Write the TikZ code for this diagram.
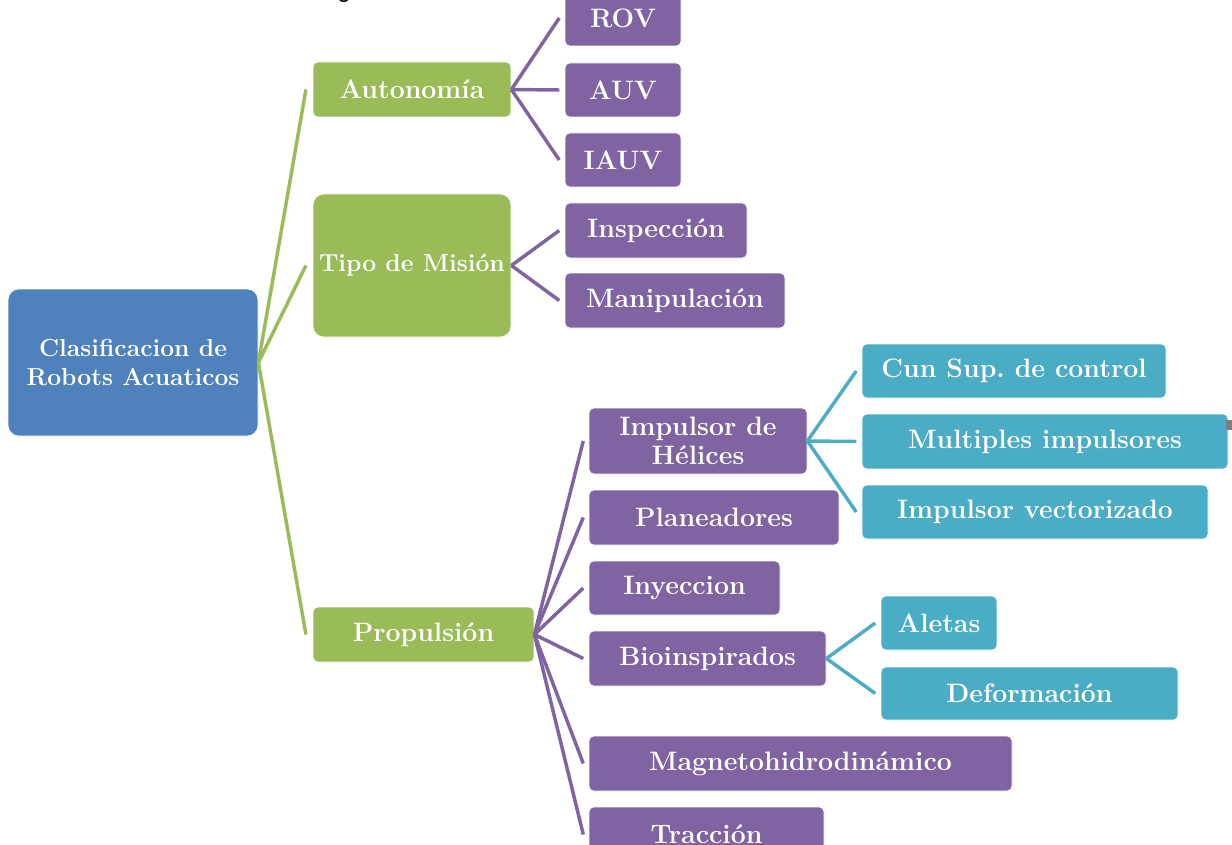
\documentclass[tikz,border=0pt]{standalone}
\usepackage{fontspec}
\newfontfamily\fragfont{Liberation Sans}
\definecolor{cblue}{HTML}{4F81BD}
\definecolor{cgreen}{HTML}{9BBB59}
\definecolor{cpurple}{HTML}{8064A2}
\definecolor{cteal}{HTML}{4BACC6}
\definecolor{cgray}{HTML}{7F7F7F}
\frenchspacing
\tikzset{
  box/.style={rectangle, rounded corners=3.5pt, draw=white, line width=0.6pt,
    text=white, font=\bfseries\fontsize{20}{22}\selectfont, inner sep=0pt, align=center},
  lvlroot/.style={box, fill=cblue, rounded corners=8pt, font=\bfseries\fontsize{18.5}{22}\selectfont},
  lvlone/.style={box, fill=cgreen},
  lvltwo/.style={box, fill=cpurple},
  lvlthree/.style={box, fill=cteal},
  gline/.style={draw=cgreen, line width=2.6pt},
  pline/.style={draw=cpurple, line width=2.6pt},
  tline/.style={draw=cteal, line width=2.6pt},
}
\newcommand{\bnode}[7]{%
  \pgfmathsetmacro\bw{((#5)-(#3))*0.75}%
  \pgfmathsetmacro\bh{((#6)-(#4))*0.75}%
  \node[#2, minimum width=\bw pt, minimum height=\bh pt] (#1) at ({((#3)+(#5))/2},{((#4)+(#6))/2}) {#7};}
\begin{document}
\begin{tikzpicture}[x=0.75pt,y=-0.75pt]
\useasboundingbox (0,0) rectangle (1232,845);
% cropped text fragment at the top
\node[font=\fragfont\fontsize{18}{20}\selectfont, anchor=base, inner sep=0pt] (frag) at (344,-2) {g};
% root
\bnode{root}{lvlroot}{8}{289}{258}{436}{Clasificacion de\\Robots Acuaticos}
% level 1
\bnode{auto}{lvlone}{313}{62}{511}{117}{Autonomía}
\bnode{tipo}{lvlone, rounded corners=8pt, font=\bfseries\fontsize{18.5}{22}\selectfont}{313}{194}{511}{337}{Tipo de Misión}
\bnode{prop}{lvlone}{313}{607}{534}{662}{Propulsión}
% level 2
\bnode{rov}{lvltwo}{565}{-10}{681}{46}{ROV}
\bnode{auv}{lvltwo}{565}{63}{681}{117}{AUV}
\bnode{iauv}{lvltwo}{565}{133}{681}{187}{IAUV}
\bnode{insp}{lvltwo}{565}{203}{747}{258}{Inspección}
\bnode{mani}{lvltwo}{565}{273}{785}{328}{Manipulación}
\bnode{heli}{lvltwo}{589}{408}{807}{474}{Impulsor de\\Hélices}
\bnode{plan}{lvltwo}{589}{490}{839}{545}{Planeadores}
\bnode{inye}{lvltwo}{589}{561}{780}{615}{Inyeccion}
\bnode{bioi}{lvltwo}{589}{631}{826}{686}{Bioinspirados}
\bnode{magn}{lvltwo}{589}{736}{1012}{791}{Magnetohidrodinámico}
\bnode{trac}{lvltwo}{589}{807}{824}{862}{Tracción}
% level 3
\bnode{cun}{lvlthree}{862}{344}{1166}{398}{Cun Sup. de control}
\bnode{mult}{lvlthree}{862}{414}{1228}{469}{Multiples impulsores}
\bnode{vect}{lvlthree}{862}{485}{1208}{539}{Impulsor vectorizado}
\bnode{alet}{lvlthree}{881}{596}{997}{650}{Aletas}
\bnode{defo}{lvlthree}{881}{667}{1178}{720}{Deformación}
% connectors
\foreach \c in {auto,tipo,prop}
  \draw[gline] (root.east) -- ([xshift=-5pt]\c.west);
\foreach \c in {rov,auv,iauv}
  \draw[pline] (auto.east) -- ([xshift=-4pt]\c.west);
\foreach \c in {insp,mani}
  \draw[pline] (tipo.east) -- ([xshift=-4pt]\c.west);
\foreach \c in {heli,plan,inye,bioi,magn,trac}
  \draw[pline] (prop.east) -- ([xshift=-4pt]\c.west);
\foreach \c in {cun,mult,vect}
  \draw[tline] (heli.east) -- ([xshift=-4pt]\c.west);
\foreach \c in {alet,defo}
  \draw[tline] (bioi.east) -- ([xshift=-4pt]\c.west);
% small gray mark at the right edge
\fill[cgray] (1226,420) rectangle (1232,430);
\end{tikzpicture}
\end{document}
